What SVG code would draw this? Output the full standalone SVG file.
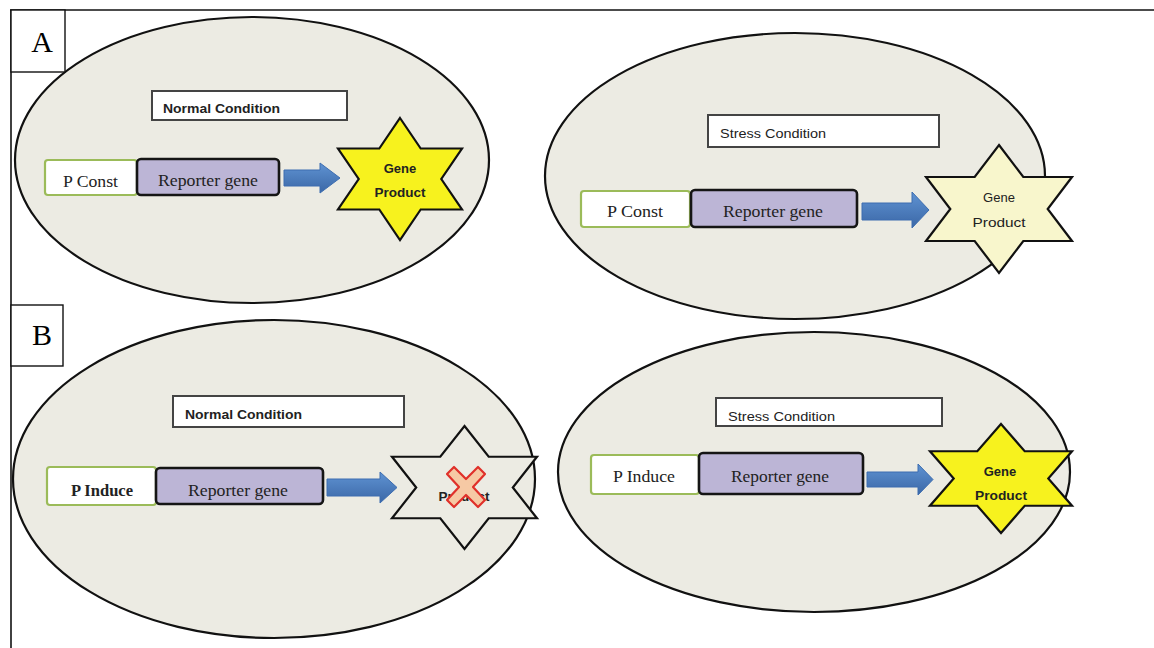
<svg xmlns="http://www.w3.org/2000/svg" width="1154" height="648" viewBox="0 0 1154 648">
<style>
.cell{fill:#ecebe3;stroke:#111;stroke-width:2.2}
.lab{fill:#fff;stroke:#444;stroke-width:2}
.prom{fill:#fff;stroke:#9bbb59;stroke-width:2.2}
.rep{fill:#bcb5d6;stroke:#151515;stroke-width:2.6}
.arr{fill:url(#ag);stroke:#3d6db0;stroke-width:1}
.star{stroke:#111;stroke-width:2.2;stroke-linejoin:miter}
.ser{font-family:"Liberation Serif","Times New Roman",serif;font-size:17px;fill:#222}
.sans{font-family:"Liberation Sans",Arial,sans-serif;font-size:13px;fill:#222}
.bold{font-weight:bold}
.tag{font-family:"Liberation Serif","Times New Roman",serif;font-size:30px;fill:#000}
</style>
<defs>
<linearGradient id="ag" x1="0" y1="0" x2="0" y2="1">
<stop offset="0" stop-color="#5f93d3"/>
<stop offset="1" stop-color="#3b67a6"/>
</linearGradient>
</defs>
<rect width="1154" height="648" fill="#fff"/>
<g id="frame">
<line x1="10" y1="10" x2="1154" y2="10" stroke="#111" stroke-width="1.6"/>
<line x1="11" y1="10" x2="11" y2="648" stroke="#111" stroke-width="1.6"/>
</g>

<g id="panel-A-normal">
<ellipse class="cell" cx="252" cy="160" rx="237" ry="143"/>
<g id="A-normal-label"><rect class="lab" x="152" y="91" width="195" height="29"/><text class="sans bold" x="163" y="113" textLength="117" lengthAdjust="spacingAndGlyphs">Normal Condition</text></g>
<g id="A-normal-promoter"><rect class="prom" x="45" y="160" width="92" height="35" rx="3"/><text class="ser" x="63" y="187" textLength="55" lengthAdjust="spacingAndGlyphs">P Const</text></g>
<g id="A-normal-reporter"><rect class="rep" x="137" y="159" width="142" height="36" rx="4"/><text class="ser" x="158" y="186" textLength="100" lengthAdjust="spacingAndGlyphs">Reporter gene</text></g>
<g id="A-normal-product"><polygon class="star" fill="#f7f21e" points="400,118 420.7,148.5 462,148.5 441.3,179 462,209.5 420.7,209.5 400,240 379.3,209.5 338,209.5 358.7,179 338,148.5 379.3,148.5"/><text class="sans bold" x="400" y="173" text-anchor="middle" font-size="12">Gene</text><text class="sans bold" x="400" y="197" text-anchor="middle" font-size="12" textLength="51" lengthAdjust="spacingAndGlyphs">Product</text></g>
</g>

<g id="panel-A-stress">
<ellipse class="cell" cx="795" cy="176" rx="250" ry="143"/>
<g id="A-stress-label"><rect class="lab" x="708" y="115" width="231" height="32"/><text class="sans" x="720" y="138" textLength="106" lengthAdjust="spacingAndGlyphs">Stress Condition</text></g>
<g id="A-stress-promoter"><rect class="prom" x="581" y="191" width="109" height="36" rx="3"/><text class="ser" x="607" y="217" textLength="56" lengthAdjust="spacingAndGlyphs">P Const</text></g>
<g id="A-stress-reporter"><rect class="rep" x="691" y="190" width="166" height="37" rx="4"/><text class="ser" x="723" y="217" textLength="100" lengthAdjust="spacingAndGlyphs">Reporter gene</text></g>
<g id="A-stress-product"><polygon class="star" fill="#f8f6cc" points="999,145 1023.3,177 1072,177 1047.7,209 1072,241 1023.3,241 999,273 974.7,241 926,241 950.3,209 926,177 974.7,177"/><text class="sans" x="999" y="202" text-anchor="middle" font-size="12.5">Gene</text><text class="sans" x="999" y="227" text-anchor="middle" font-size="12.5" textLength="53" lengthAdjust="spacingAndGlyphs">Product</text></g>
</g>

<g id="panel-B-normal">
<ellipse class="cell" cx="274" cy="479" rx="261" ry="159"/>
<g id="B-normal-label"><rect class="lab" x="173" y="396" width="231" height="31"/><text class="sans bold" x="185" y="419" textLength="117" lengthAdjust="spacingAndGlyphs">Normal Condition</text></g>
<g id="B-normal-promoter"><rect class="prom" x="47" y="467" width="109" height="38" rx="3"/><text class="ser bold" x="71" y="496" textLength="62" lengthAdjust="spacingAndGlyphs">P Induce</text></g>
<g id="B-normal-reporter"><rect class="rep" x="156" y="468" width="167" height="36" rx="4"/><text class="ser" x="188" y="496" textLength="100" lengthAdjust="spacingAndGlyphs">Reporter gene</text></g>
<g id="B-normal-product"><polygon class="star" fill="#ecebe3" points="464.5,426 488.7,456.75 537,456.75 512.8,487.5 537,518.25 488.7,518.25 464.5,549 440.3,518.25 392,518.25 416.2,487.5 392,456.75 440.3,456.75"/><text class="sans bold" x="464" y="501" text-anchor="middle" font-size="12" textLength="51" lengthAdjust="spacingAndGlyphs">Product</text>
<polygon fill="#f6c9a4" stroke="#e0302a" stroke-width="2.2" stroke-linejoin="round" points="447,474 454,467 466,479 478,467 485,474 473,487 485,500 478,507 466,495 454,507 447,500 459,487"/></g>
</g>

<g id="panel-B-stress">
<ellipse class="cell" cx="814" cy="472" rx="256" ry="140"/>
<g id="B-stress-label"><rect class="lab" x="716" y="398" width="226" height="28"/><text class="sans" x="728" y="421" textLength="107" lengthAdjust="spacingAndGlyphs">Stress Condition</text></g>
<g id="B-stress-promoter"><rect class="prom" x="591" y="455" width="108" height="39" rx="3"/><text class="ser" x="613" y="482" textLength="62" lengthAdjust="spacingAndGlyphs">P Induce</text></g>
<g id="B-stress-reporter"><rect class="rep" x="699" y="453" width="164" height="41" rx="4"/><text class="ser" x="731" y="482" textLength="98" lengthAdjust="spacingAndGlyphs">Reporter gene</text></g>
<g id="B-stress-product"><polygon class="star" fill="#f7f21e" points="1001,424 1024.7,451.25 1072,451.25 1048.3,478.5 1072,505.75 1024.7,505.75 1001,533 977.3,505.75 930,505.75 953.7,478.5 930,451.25 977.3,451.25"/><text class="sans bold" x="1000" y="476" text-anchor="middle" font-size="12">Gene</text><text class="sans bold" x="1001" y="500" text-anchor="middle" font-size="12" textLength="52" lengthAdjust="spacingAndGlyphs">Product</text></g>
</g>

<g id="connectors">
<polygon class="arr" points="284,170 320,170 320,163 340,178 320,193 320,186 284,186"/>
<polygon class="arr" points="862,203 912,203 912,192 929,210 912,228 912,220 862,220"/>
<polygon class="arr" points="327,479 380,479 380,472 397,487.5 380,503 380,496 327,496"/>
<polygon class="arr" points="867,472 918,472 918,464 933,479.5 918,495 918,487 867,487"/>
</g>

<g id="tag-A"><rect x="11" y="10" width="54" height="62" fill="#fff" stroke="#111" stroke-width="1.4"/><text class="tag" x="42" y="52" text-anchor="middle">A</text></g>
<g id="tag-B"><rect x="11" y="305" width="52" height="61" fill="#fff" stroke="#111" stroke-width="1.4"/><text class="tag" x="42" y="345" text-anchor="middle">B</text></g>
</svg>
